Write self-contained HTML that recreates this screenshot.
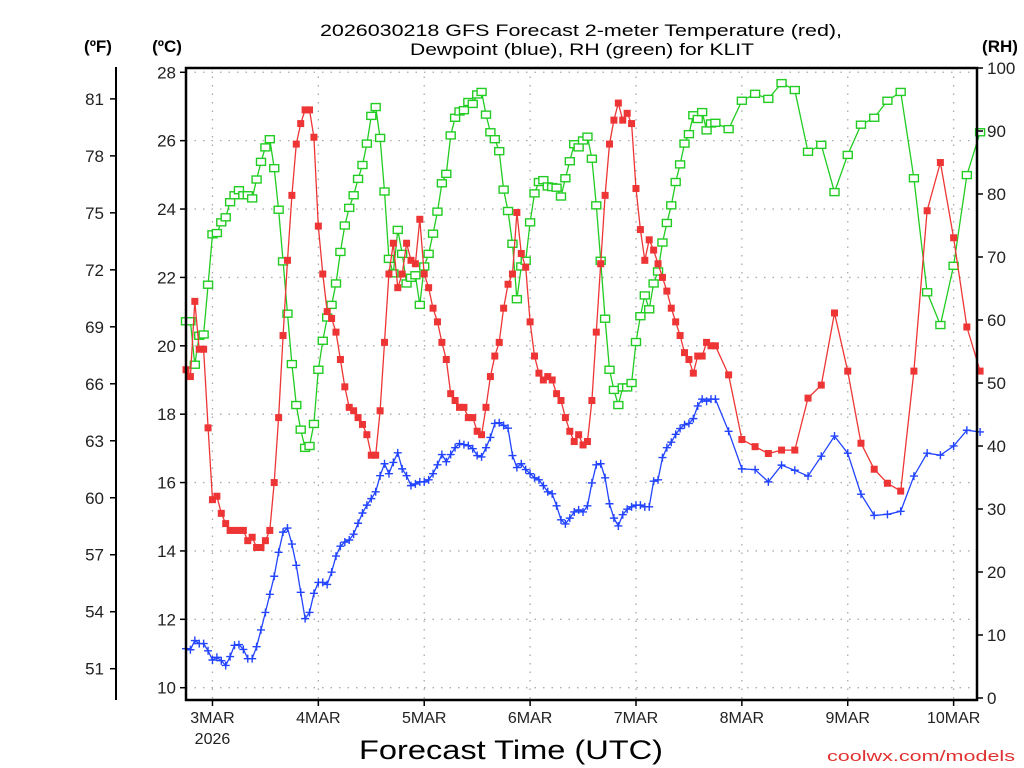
<!DOCTYPE html>
<html><head><meta charset="utf-8"><style>
html,body{margin:0;padding:0;background:#fff;}
svg{display:block;font-family:"Liberation Sans",sans-serif;}
</style></head><body>
<svg id="chart" width="1024" height="768" viewBox="0 0 1024 768" xmlns="http://www.w3.org/2000/svg">
<rect width="1024" height="768" fill="#fff"/>
<g id="grid"></g>
<g id="series"></g>
<g id="axes"></g>
<text x="581" y="36" text-anchor="middle" font-size="17" textLength="522" lengthAdjust="spacingAndGlyphs">2026030218 GFS Forecast 2-meter Temperature (red),</text>
<text x="582" y="55" text-anchor="middle" font-size="17" textLength="344" lengthAdjust="spacingAndGlyphs">Dewpoint (blue), RH (green) for KLIT</text>
<text x="98" y="52" text-anchor="middle" font-size="17" font-weight="bold">(ºF)</text>
<text x="167" y="52" text-anchor="middle" font-size="17" font-weight="bold">(ºC)</text>
<text x="1000" y="52" text-anchor="middle" font-size="17" font-weight="bold">(RH)</text>
<text x="511" y="759" text-anchor="middle" font-size="27" textLength="304" lengthAdjust="spacingAndGlyphs">Forecast Time (UTC)</text>
<text x="1015" y="761" text-anchor="end" font-size="15" fill="#e03030" textLength="188" lengthAdjust="spacingAndGlyphs">coolwx.com/models</text>
</svg>
<script>
// hourly 0..120 then 3-hourly 123..180
const tempHourly = [19.3,19.1,21.3,19.9,19.9,17.6,15.5,15.6,15.1,14.8,
14.6,14.6,14.6,14.6,14.3,14.4,14.1,14.1,14.3,14.6,
16.0,17.9,20.3,22.5,24.4,25.9,26.5,26.9,26.9,26.1,
23.5,22.1,21.0,20.8,20.4,19.6,18.8,18.2,18.1,17.9,
17.7,17.4,16.8,16.8,18.1,20.1,22.1,23.0,21.7,22.1,
23.0,22.5,22.4,23.7,22.1,21.7,21.1,20.7,20.1,19.6,
18.6,18.4,18.2,18.2,17.9,17.9,17.5,17.4,18.2,19.1,
19.7,20.1,21.1,21.8,22.1,23.9,22.7,22.3,20.7,19.7,
19.2,19.0,19.1,19.0,18.6,18.4,17.9,17.5,17.2,17.4,
17.1,17.2,18.4,20.4,22.4,24.4,25.9,26.6,27.1,26.6,
26.8,26.5,24.6,23.4,22.5,23.1,22.8,22.4,22.0,21.6,
21.1,20.7,20.3,19.8,19.6,19.2,19.7,19.7,20.1,20.0,20.0];
const temp3h = [19.15,17.26,17.05,16.85,16.95,16.95,18.47,18.85,20.96,19.26,17.15,16.39,15.98,15.75,19.26,23.95,25.36,23.16,20.55,19.26];
const dewHourly = [11.14,11.11,11.38,11.29,11.29,11.08,10.81,10.89,10.79,10.65,
10.91,11.24,11.26,11.12,10.85,10.85,11.2,11.69,12.2,12.73,
13.26,13.96,14.55,14.67,14.2,13.58,12.79,12.02,12.2,12.76,
13.08,13.08,13.02,13.38,13.85,14.14,14.26,14.32,14.49,14.81,
15.11,15.34,15.53,15.73,16.2,16.55,16.26,16.59,16.87,16.4,
16.2,15.91,15.96,16.02,16.02,16.08,16.26,16.52,16.82,16.61,
16.82,17.02,17.14,17.11,17.08,16.99,16.79,16.75,17.02,17.32,
17.73,17.75,17.67,17.59,16.79,16.44,16.55,16.38,16.26,16.14,
16.08,15.91,15.73,15.67,15.32,14.91,14.79,14.96,15.14,15.2,
15.14,15.32,15.99,16.52,16.55,16.14,15.38,14.96,14.73,15.06,
15.22,15.29,15.34,15.34,15.29,15.29,16.04,16.08,16.73,17.02,
17.18,17.41,17.58,17.69,17.73,17.87,18.24,18.44,18.38,18.44,18.44];
const dew3h = [17.5,16.4,16.38,16.02,16.51,16.36,16.19,16.77,17.36,16.86,15.66,15.04,15.07,15.16,16.19,16.86,16.8,17.07,17.53,17.48];
const rhHourly = [59.8,59.8,52.9,57.5,57.7,65.6,73.6,73.8,75.5,76.3,
78.7,79.8,80.6,79.8,79.8,79.3,82.3,85.1,87.4,88.7,
84.1,77.5,69.3,61.0,53.0,46.5,42.6,39.7,40.0,43.5,
52.1,56.7,60.4,62.4,65.8,70.8,75.0,77.8,79.8,82.4,
84.6,88.0,92.4,93.8,88.9,80.4,69.7,67.4,74.3,70.5,
65.8,66.7,67.1,62.4,68.5,70.5,73.7,77.2,81.7,83.2,
89.3,92.1,93.1,93.3,94.6,94.3,95.8,96.2,92.6,89.8,
88.7,86.8,80.7,77.3,72.1,63.3,68.5,69.4,75.5,80.1,
81.9,82.2,81.2,81.1,81.0,79.6,82.5,85.2,87.9,87.4,
88.5,89.1,85.6,78.2,69.4,60.2,52.1,48.9,46.5,49.3,
49.3,50.0,56.5,60.6,63.9,61.7,65.8,67.7,72.3,75.4,
78.2,81.9,84.7,88.0,89.5,92.5,91.9,93.0,90.1,91.2,91.3];
const rh3h = [90.3,94.8,95.9,95.1,97.6,96.5,86.7,87.8,80.3,86.2,91.0,92.1,94.8,96.2,82.5,64.4,59.2,68.6,83.0,89.8];
const celsiusTicks = [10,12,14,16,18,20,22,24,26,28];
const fahrenheitTicks = [51,54,57,60,63,66,69,72,75,78,81];
const rhTicks = [0,10,20,30,40,50,60,70,80,90,100];
const dayLabels = ["3MAR","4MAR","5MAR","6MAR","7MAR","8MAR","9MAR","10MAR"];
const dayHours = [6,30,54,78,102,126,150,174];

const NS="http://www.w3.org/2000/svg";
const L=186,R=977,T=68,B=700;
const xH=h=>L+(h/179.3)*(R-L);
const yC=c=>687.7-(c-10)*34.19;
const yRH=r=>698-r*6.3;
const yF=f=>yC((f-32)/1.8);
function mk(tag,attrs,parent){const e=document.createElementNS(NS,tag);for(const k in attrs)e.setAttribute(k,attrs[k]);parent.appendChild(e);return e;}
const grid=document.getElementById('grid'),series=document.getElementById('series'),axes=document.getElementById('axes');

const hours=[];
for(let i=0;i<tempHourly.length;i++)hours.push(i);
for(let i=0;i<temp3h.length;i++)hours.push(123+3*i);
const temp=tempHourly.concat(temp3h),dew=dewHourly.concat(dew3h),rh=rhHourly.concat(rh3h);

// grid
celsiusTicks.forEach(c=>{const g=mk('line',{x1:L,x2:R,y1:yC(c),y2:yC(c),stroke:'#aaa','stroke-width':1.3,'stroke-dasharray':'1.5 7'},grid);

});
dayHours.forEach(h=>{const g=mk('line',{x1:xH(h),x2:xH(h),y1:T,y2:B,stroke:'#aaa','stroke-width':1.3,'stroke-dasharray':'1.5 7'},grid);

});

function drawSeries(vals,yf,color,kind,name){
  const pts=vals.map((v,i)=>xH(hours[i]).toFixed(1)+','+yf(v).toFixed(1)).join(' ');
  const pl=mk('polyline',{points:pts,fill:'none',stroke:color,'stroke-width':1.3},series);
  
  
  vals.forEach((v,i)=>{const x=xH(hours[i]),y=yf(v);let m;
    if(kind==='sq')m=mk('rect',{x:x-3.5,y:y-3.5,width:7,height:7,fill:color},series);
    else if(kind==='hsq')m=mk('rect',{x:x-4.5,y:y-3.5,width:9,height:7,fill:'#fff',stroke:color,'stroke-width':1.4},series);
    else m=mk('path',{d:`M${x-4},${y}H${x+4}M${x},${y-4}V${y+4}`,stroke:color,'stroke-width':1.4},series);
    
    });
}
drawSeries(rh,yRH,'#22cc22','hsq','rh-series');
drawSeries(temp,yC,'#ee3535','sq','temperature-series');
drawSeries(dew,yC,'#2244ff','plus','dewpoint-series');

// frame
const fr=mk('rect',{x:L,y:T,width:R-L,height:B-T,fill:'none',stroke:'#000','stroke-width':2.5},axes);


const fa=mk('line',{x1:116,x2:116,y1:67,y2:700,stroke:'#000','stroke-width':2},axes);


celsiusTicks.forEach(c=>{mk('line',{x1:L-6,x2:L,y1:yC(c),y2:yC(c),stroke:'#000','stroke-width':1.5},axes);
const t=mk('text',{x:L-10,y:yC(c)+6,'text-anchor':'end','font-size':17,fill:'#222'},axes);t.textContent=c;

});
fahrenheitTicks.forEach(f=>{mk('line',{x1:110,x2:116,y1:yF(f),y2:yF(f),stroke:'#000','stroke-width':1.5},axes);
const t=mk('text',{x:104,y:yF(f)+6,'text-anchor':'end','font-size':17,fill:'#222'},axes);t.textContent=f;

});
rhTicks.forEach(r=>{mk('line',{x1:R,x2:R+6,y1:yRH(r),y2:yRH(r),stroke:'#000','stroke-width':1.5},axes);
const t=mk('text',{x:R+10,y:yRH(r)+6,'font-size':17,fill:'#222'},axes);t.textContent=r;

});
dayHours.forEach((h,i)=>{mk('line',{x1:xH(h),x2:xH(h),y1:B,y2:B+6,stroke:'#000','stroke-width':1.5},axes);
const t=mk('text',{x:xH(h),y:723,'text-anchor':'middle','font-size':16,fill:'#222'},axes);t.textContent=dayLabels[i];

});
const yr=mk('text',{x:xH(dayHours[0]),y:744,'text-anchor':'middle','font-size':16,fill:'#222'},axes);yr.textContent='2026';


</script>
</body></html>
